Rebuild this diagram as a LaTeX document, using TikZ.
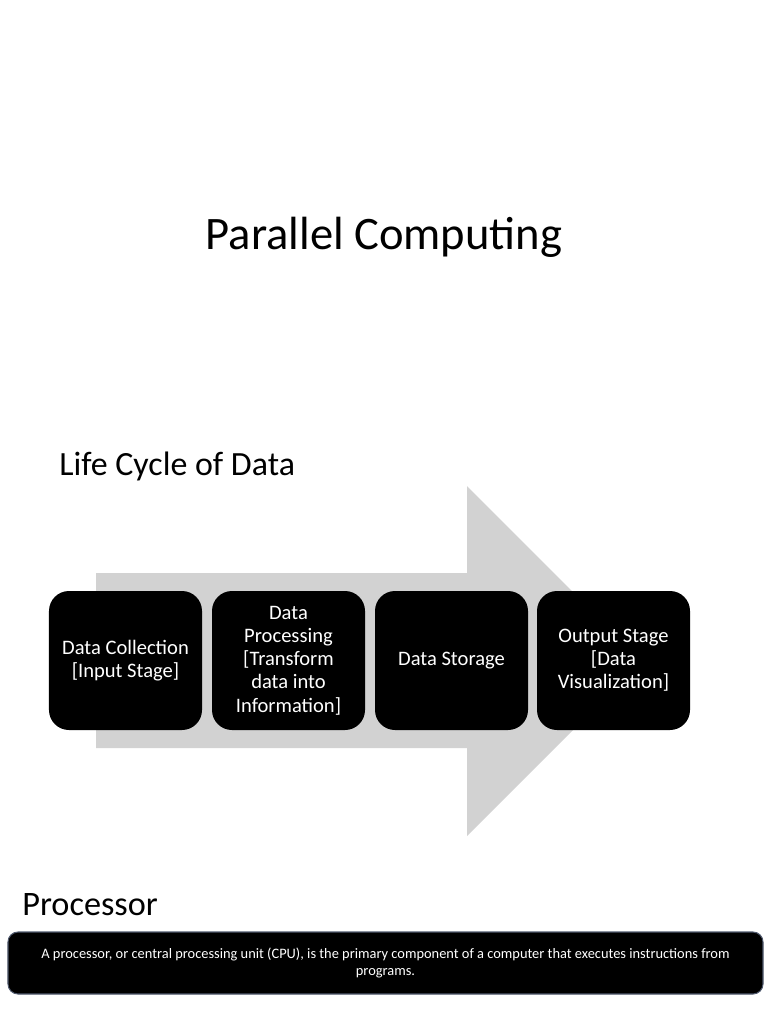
\documentclass[tikz,border=0pt]{standalone}
\usepackage{fontspec}
\setmainfont{Carlito}
\begin{document}
\begin{tikzpicture}
[x=0.2mm, y=-0.2mm,
stage/.style={rectangle, rounded corners=4mm, fill=black, text=white, align=center, inner sep=0pt, minimum width=30.6mm, minimum height=27.8mm, font=\fontsize{11.7}{13.2}\selectfont},
arrowfill/.style={fill=gray!35},
heading/.style={anchor=west, inner sep=0pt},
infobox/.style={rectangle, rounded corners=2mm, fill=black, text=white, align=center, draw={rgb,255:red,80;green,90;blue,110}, line width=0.6pt, minimum width=151mm, minimum height=12.4mm, font=\fontsize{8.2}{9.7}\selectfont}]

\useasboundingbox (0,0) rectangle (768,1024);

\node[inner sep=0pt, font=\fontsize{26.5}{32}\selectfont] (title) at (384,237) {Parallel Computing};

\node[heading, font=\fontsize{19.3}{24}\selectfont] (lifecycle) at (59,466) {Life Cycle of Data};

\fill[arrowfill] (96,573) -- (467,573) -- (467,486) -- (642,661) -- (467,836) -- (467,748) -- (96,748) -- cycle;

\node[stage] (collect) at (125.5,660.5) {Data Collection\\{[Input Stage]}};
\node[stage] (process) at (288.5,660.5) {Data\\Processing\\{[Transform}\\data into\\Information]};
\node[stage] (storage) at (451.5,660.5) {Data Storage};
\node[stage] (output) at (613.5,660.5) {Output Stage\\{[Data}\\Visualization]};

\node[heading, font=\fontsize{19.5}{24}\selectfont] (processor) at (22,905) {Processor};

\node[infobox] (cpu) at (385.5,963) {A processor, or central processing unit (CPU), is the primary component of a computer that executes instructions from\\programs.};
\end{tikzpicture}
\end{document}
